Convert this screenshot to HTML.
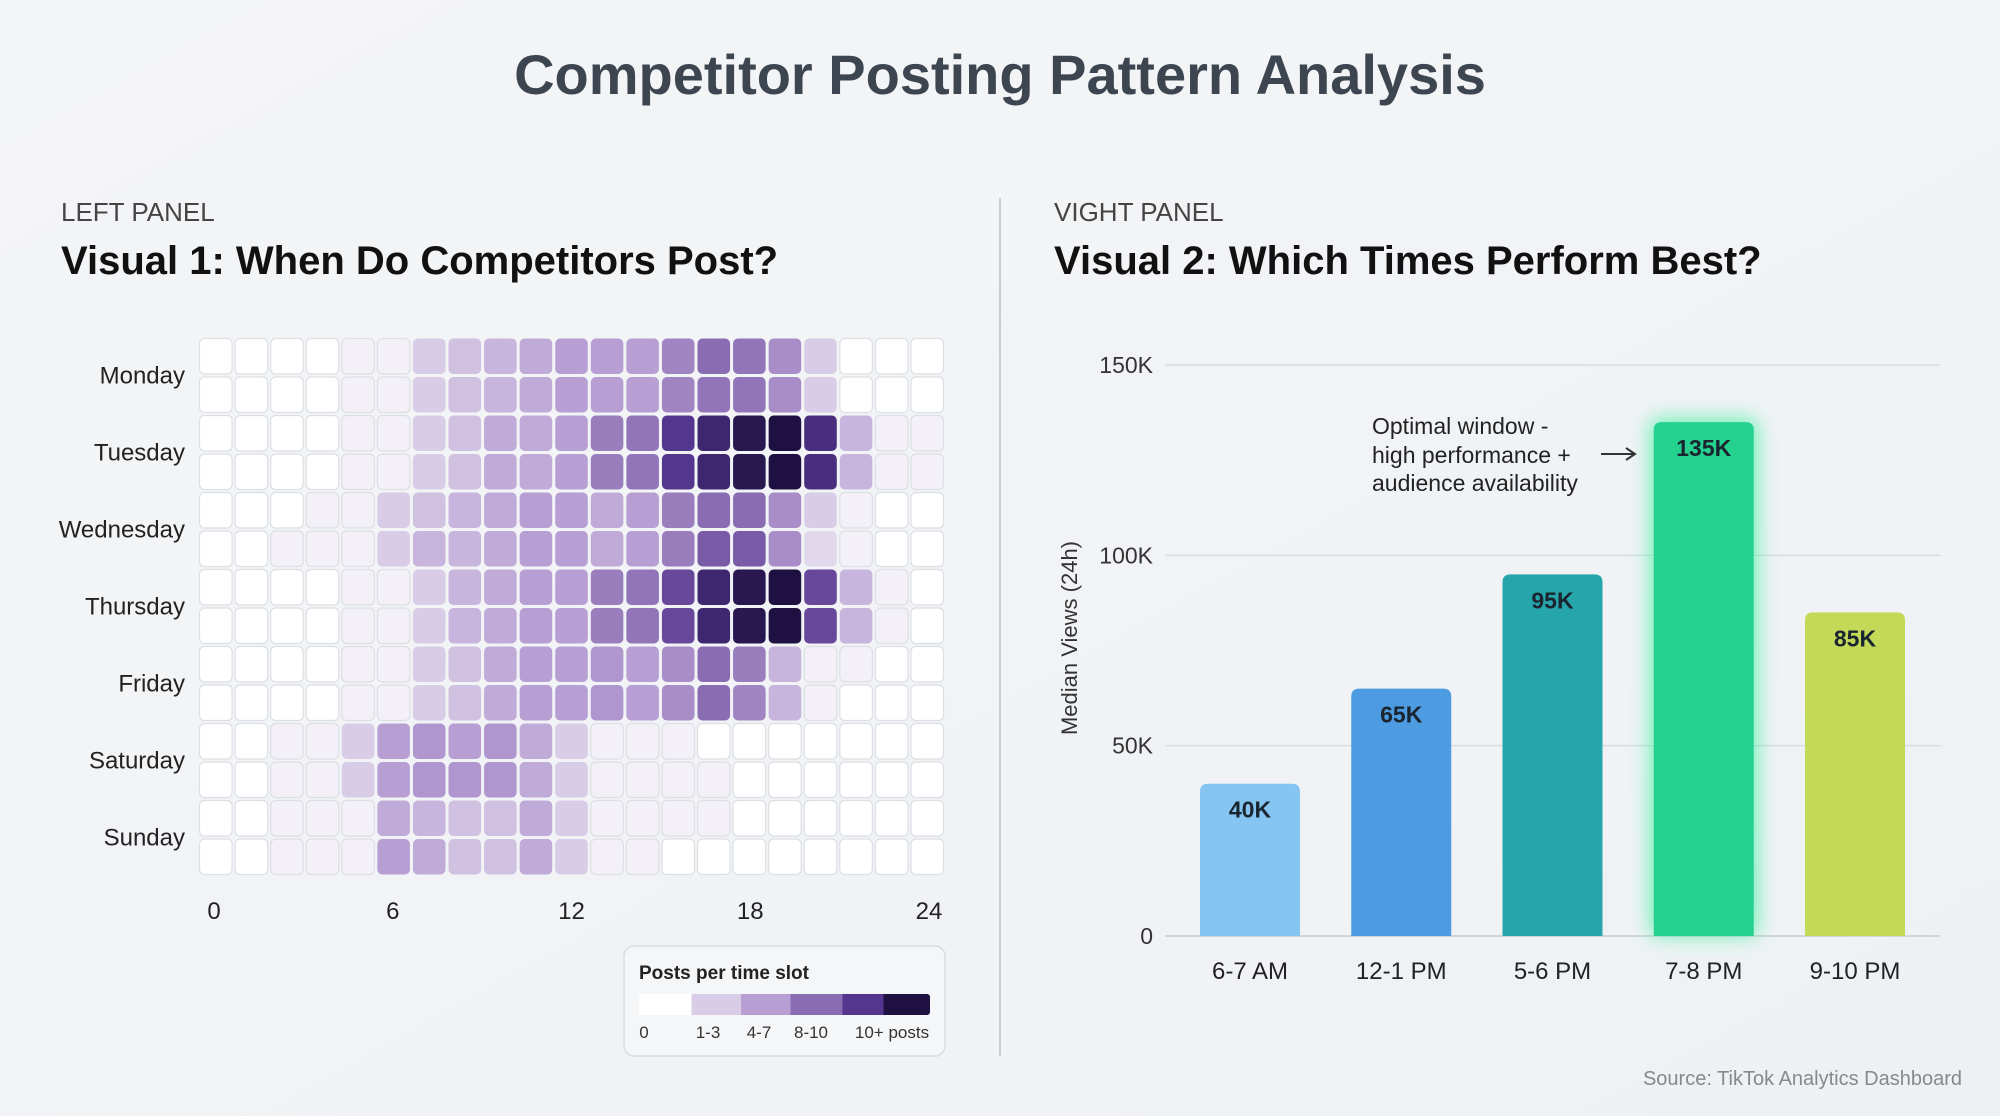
<!DOCTYPE html>
<html><head><meta charset="utf-8"><style>
html,body{margin:0;padding:0;background:#f1f3f6;}
svg{display:block;font-family:"Liberation Sans",sans-serif;}
</style></head><body>
<svg id="s" width="2000" height="1116" viewBox="0 0 2000 1116">
<defs>
<linearGradient id="bg" x1="0" y1="0" x2="1" y2="1"><stop offset="0" stop-color="#f4f5f7"/><stop offset="1" stop-color="#eef1f4"/></linearGradient>
<linearGradient id="lg" x1="0" x2="1"><stop offset="0" stop-color="#ffffff"/><stop offset="0.18" stop-color="#ffffff"/><stop offset="0.18" stop-color="#d9cce6"/><stop offset="0.35" stop-color="#d9cce6"/><stop offset="0.35" stop-color="#b79ed3"/><stop offset="0.52" stop-color="#b79ed3"/><stop offset="0.52" stop-color="#8a6cb2"/><stop offset="0.7" stop-color="#8a6cb2"/><stop offset="0.7" stop-color="#55368e"/><stop offset="0.84" stop-color="#55368e"/><stop offset="0.84" stop-color="#1e1040"/><stop offset="1" stop-color="#1e1040"/></linearGradient>
<filter id="glow" x="-50%" y="-20%" width="200%" height="140%"><feGaussianBlur stdDeviation="10"/></filter>
</defs>
<rect width="2000" height="1116" fill="url(#bg)"/>
<text x="1000" y="94" text-anchor="middle" font-size="56" font-weight="bold" fill="#3d4650">Competitor Posting Pattern Analysis</text>
<line x1="1000" y1="198" x2="1000" y2="1056" stroke="#c9cdd2" stroke-width="2"/>
<text x="61" y="221" font-size="26" fill="#444">LEFT PANEL</text>
<text x="61" y="274" font-size="40" font-weight="bold" fill="#111">Visual 1: When Do Competitors Post?</text>
<text x="1054" y="221" font-size="26" fill="#444">VIGHT PANEL</text>
<text x="1054" y="274" font-size="40" font-weight="bold" fill="#111">Visual 2: Which Times Perform Best?</text>
<g id="heat"></g>
<g>
<rect x="624" y="946" width="321" height="110" rx="10" fill="#f5f6f8" stroke="#d8dbe0" stroke-width="1.5"/>
<text x="639" y="979" font-size="19" font-weight="bold" fill="#222">Posts per time slot</text>
<rect x="639" y="994" width="291" height="21" rx="3" fill="url(#lg)"/>
<g font-size="17" fill="#333" text-anchor="middle">
<text x="644" y="1038">0</text>
<text x="708" y="1038">1-3</text>
<text x="759" y="1038">4-7</text>
<text x="811" y="1038">8-10</text>
<text x="892" y="1038">10+ posts</text>
</g></g>
<g id="bars"></g>
<g font-size="23" fill="#222">
<text x="1372" y="434">Optimal window -</text>
<text x="1372" y="463">high performance +</text>
<text x="1372" y="491">audience availability</text>
<path d="M1601 454 H1634 M1626 448 L1635 454 L1626 460" stroke="#333" stroke-width="2" fill="none"/>
</g>
<text x="1962" y="1085" text-anchor="end" font-size="20" fill="#888">Source: TikTok Analytics Dashboard</text>
</svg>
<script>
const days = ["Monday","Tuesday","Wednesday","Thursday","Friday","Saturday","Sunday"];
const hourTicks = [0,6,12,18,24];
const heatValues = [
[0,0,0,0,0.5,0.5,2,2.5,3,3.5,4,4,4,5.5,7,6.5,5,2,0,0,0],
[0,0,0,0,0.5,0.5,2,2.5,3,3.5,4,4,4,5.5,6.5,6.5,5,2,0,0,0],
[0,0,0,0,0.5,0.5,2,2.5,3.5,3.5,4,6,6.5,10,11,12,12.5,10.5,3,0.5,0.5],
[0,0,0,0,0.5,0.5,2,2.5,3.5,3.5,4,6,6.5,10,11,12,12.5,10.5,3,0.5,0.5],
[0,0,0,0.5,0.5,2,2.5,3,3.5,4,4,3.5,4,6,7,7,5,2,0.5,0,0],
[0,0,0.5,0.5,0.5,2,3,3,3.5,4,4,3.5,4,6,8,8,5,1.5,0.5,0,0],
[0,0,0,0,0.5,0.5,2,3,3.5,4,4,6,6.5,9,11,12,12.5,9,3,0.5,0],
[0,0,0,0,0.5,0.5,2,3,3.5,4,4,6,6.5,9,11,12,12.5,9,3,0.5,0],
[0,0,0,0,0.5,0.5,2,2.5,3.5,4,4,4.5,4,5,7,6,3,0.5,0.5,0,0],
[0,0,0,0,0.5,0.5,2,2.5,3.5,4,4,4.5,4,5,7,5.5,3,0.5,0,0,0],
[0,0,0.5,0.5,2,4,4.5,4,4.5,3.5,2,0.5,0.5,0.5,0,0,0,0,0,0,0],
[0,0,0.5,0.5,2,4,4.5,4.5,4.5,3.5,2,0.5,0.5,0.5,0.5,0,0,0,0,0,0],
[0,0,0.5,0.5,0.5,3.5,3,2.5,2.5,3.5,2,0.5,0.5,0.5,0.5,0,0,0,0,0,0],
[0,0,0.5,0.5,0.5,4,3.5,2.5,2.5,3.5,2,0.5,0.5,0,0,0,0,0,0,0,0]
];
const barCategories = ["6-7 AM","12-1 PM","5-6 PM","7-8 PM","9-10 PM"];
const barValues = [40000,65000,95000,135000,85000];
const barLabels = ["40K","65K","95K","135K","85K"];
const yTicks = [0,50000,100000,150000];
const yTickLabels = ["0","50K","100K","150K"];

const NS="http://www.w3.org/2000/svg";
function mk(tag,attrs,parent,text){const e=document.createElementNS(NS,tag);for(const k in attrs)e.setAttribute(k,attrs[k]);if(text!==undefined)e.textContent=text;parent.appendChild(e);return e;}
const stops=[[0,[255,255,255]],[0.5,[244,240,248]],[2,[217,204,230]],[4,[183,158,211]],[7,[138,108,178]],[10,[85,54,142]],[12.5,[30,16,64]]];
function color(v){for(let i=1;i<stops.length;i++){if(v<=stops[i][0]){const a=stops[i-1],b=stops[i];const t=(v-a[0])/(b[0]-a[0]);return "rgb("+a[1].map((c,j)=>Math.round(c+(b[1][j]-c)*t)).join(",")+")";}}return "rgb(30,16,64)";}
// heatmap
const heat=document.getElementById('heat');
const hx0=198,hx1=945,hy0=337,hy1=876;
const nCols=heatValues[0].length,nRows=heatValues.length;
const cw=(hx1-hx0)/nCols,ch=(hy1-hy0)/nRows;
heatValues.forEach((row,r)=>row.forEach((v,c)=>{
  const e=mk('rect',{x:hx0+c*cw+1.5,y:hy0+r*ch+1.5,width:cw-3,height:ch-3,rx:5,fill:color(v),stroke:v<1?'#dcdfe4':'none','stroke-width':1.2},heat);
  
  
}));
const rowsPerDay=nRows/days.length;
days.forEach((d,i)=>{
  const e=mk('text',{x:185,y:hy0+(i+0.5)*rowsPerDay*ch+8,'text-anchor':'end','font-size':24,fill:'#222'},heat,d);
  
  
});
const hourX=h=>214+(929-214)*h/24;
hourTicks.forEach(h=>{
  const e=mk('text',{x:hourX(h),y:919,'text-anchor':'middle','font-size':24,fill:'#222'},heat,String(h));
  
  
});
// bars
const bars=document.getElementById('bars');
const yMax=150000,y0=936,yTop=365;
const yS=v=>y0-(y0-yTop)*v/yMax;
yTicks.forEach((t,i)=>{
  const g=mk('line',{x1:1165,x2:1940,y1:yS(t),y2:yS(t),stroke:i===0?'#c8ccd2':'#d8dce1','stroke-width':1.5},bars);
  
  
  const e=mk('text',{x:1153,y:yS(t)+8,'text-anchor':'end','font-size':23,fill:'#333'},bars,yTickLabels[i]);
  
  
});
const yt=mk('text',{x:0,y:0,transform:'translate(1077,638) rotate(-90)','text-anchor':'middle','font-size':22,fill:'#333'},bars,'Median Views (24h)');


const colors=["#86c5f2","#4d9be0","#26a6ab","#24d18e","#c4d957"];
const bx0=1250,bstep=151.25,bw=100;
barCategories.forEach((c,i)=>{
  const cx=bx0+i*bstep,top=yS(barValues[i]);
  if(barValues[i]===Math.max(...barValues)){
    const gl=mk('rect',{x:cx-bw/2-4,y:top-4,width:bw+8,height:y0-top+4,rx:8,fill:'#3ef0a0',opacity:0.7,filter:'url(#glow)'},bars);
    
    
  }
  const b=mk('path',{d:`M${cx-bw/2} ${y0} V${top+8} Q${cx-bw/2} ${top} ${cx-bw/2+8} ${top} H${cx+bw/2-8} Q${cx+bw/2} ${top} ${cx+bw/2} ${top+8} V${y0} Z`,fill:colors[i]},bars);
  
  
  const l=mk('text',{x:cx,y:top+34,'text-anchor':'middle','font-size':23,'font-weight':'bold',fill:'#1a2530'},bars,barLabels[i]);
  
  
  const x=mk('text',{x:cx,y:979,'text-anchor':'middle','font-size':24,fill:'#222'},bars,c);
  
  
});
</script>
</body></html>
